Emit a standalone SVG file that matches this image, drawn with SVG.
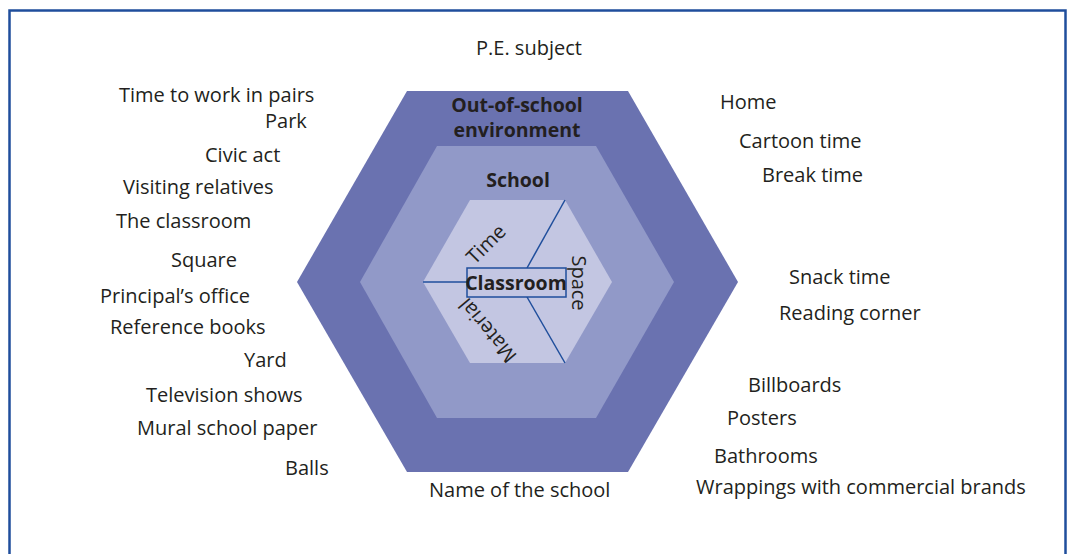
<svg xmlns="http://www.w3.org/2000/svg" width="1069" height="554" viewBox="0 0 1069 554">
<style>
.t{font-family:"Open Sans","Liberation Sans",sans-serif;font-size:20px;fill:#231f20}
.b{font-family:"Open Sans","Liberation Sans",sans-serif;font-size:19.5px;font-weight:bold;fill:#231f20;text-anchor:middle}
.ln{stroke:#1f4e9c;stroke-width:1.5;fill:none}
</style>
<rect x="0" y="0" width="1069" height="554" fill="#ffffff"/>
<rect x="9.5" y="10.5" width="1056" height="560" fill="none" stroke="#1f4e9c" stroke-width="2.5"/>
<g id="outer">
<polygon points="407,91 628,91 738,282 628,472 407,472 297,282" fill="#6a72b0"/>
<text class="b" x="517" y="112">Out-of-school</text>
<text class="b" x="517" y="137">environment</text>
</g>
<g id="school">
<polygon points="437,146 596,146 674,282 596,418 437,418 360,282" fill="#9199c8"/>
<text class="b" x="518" y="187">School</text>
</g>
<g id="classroom-hex">
<polygon points="470,200 565,200 612,282 565,363 470,363 423,282" fill="#c3c6e2"/>
</g>
<g id="connectors">
<line class="ln" x1="423" y1="282" x2="467" y2="282"/>
<line class="ln" x1="565" y1="200" x2="527" y2="268"/>
<line class="ln" x1="565" y1="363" x2="527" y2="297"/>
</g>
<g id="classroom">
<rect x="467" y="268" width="99" height="29" fill="#c3c6e2" stroke="#1f4e9c" stroke-width="1.5"/>
<text class="b" x="516" y="290">Classroom</text>
</g>
<g id="time"><text class="t" text-anchor="middle" transform="translate(491,249) rotate(-45)">Time</text></g>
<g id="space"><text class="t" text-anchor="middle" transform="translate(572,283) rotate(90)">Space</text></g>
<g id="material"><text class="t" text-anchor="middle" transform="translate(493,326) rotate(230)">Material</text></g>
<g id="labels">
<text class="t" x="476" y="55">P.E. subject</text>
<text class="t" x="119" y="102">Time to work in pairs</text>
<text class="t" x="265" y="128">Park</text>
<text class="t" x="205" y="162">Civic act</text>
<text class="t" x="123" y="194">Visiting relatives</text>
<text class="t" x="116" y="228">The classroom</text>
<text class="t" x="171" y="267">Square</text>
<text class="t" x="100" y="303">Principal’s office</text>
<text class="t" x="110" y="334">Reference books</text>
<text class="t" x="244" y="367">Yard</text>
<text class="t" x="146" y="402">Television shows</text>
<text class="t" x="137" y="435">Mural school paper</text>
<text class="t" x="285" y="475">Balls</text>
<text class="t" x="429" y="497">Name of the school</text>
<text class="t" x="720" y="109">Home</text>
<text class="t" x="739" y="148">Cartoon time</text>
<text class="t" x="762" y="182">Break time</text>
<text class="t" x="789" y="284">Snack time</text>
<text class="t" x="779" y="320">Reading corner</text>
<text class="t" x="748" y="392">Billboards</text>
<text class="t" x="727" y="425">Posters</text>
<text class="t" x="714" y="463">Bathrooms</text>
<text class="t" x="696" y="494">Wrappings with commercial brands</text>
</g>
</svg>
